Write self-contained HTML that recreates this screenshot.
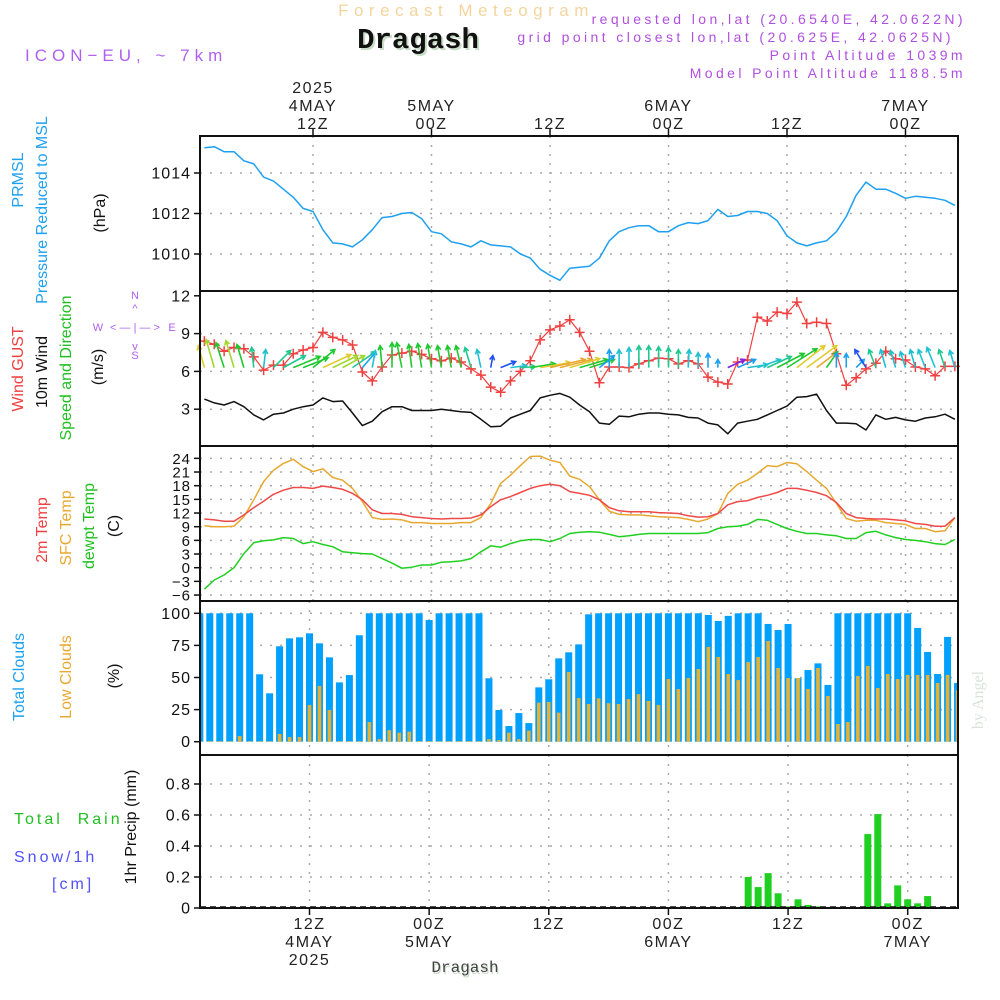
<!DOCTYPE html>
<html><head><meta charset="utf-8"><title>Forecast Meteogram Dragash</title>
<style>
html,body{margin:0;padding:0;background:#fff;}
svg{display:block;font-family:"Liberation Sans",sans-serif;}
</style></head>
<body>
<svg id="chart" width="1000" height="1000" viewBox="0 0 1000 1000" xmlns="http://www.w3.org/2000/svg">
<rect width="1000" height="1000" fill="#fff"/>
<!-- Header -->
<text x="466" y="16" text-anchor="middle" font-size="17" fill="#f4d49c" letter-spacing="5.5">Forecast Meteogram</text>
<text x="420" y="50" text-anchor="middle" font-family="Liberation Mono, monospace" font-weight="bold" font-size="29" fill="#c8dcc8">Dragash</text>
<text x="418" y="48" text-anchor="middle" font-family="Liberation Mono, monospace" font-weight="bold" font-size="29" fill="#111">Dragash</text>
<text x="25" y="61" font-size="17" fill="#b060f0" letter-spacing="5">ICON−EU, ~ 7km</text>
<g font-size="14" fill="#b050e0" text-anchor="end" letter-spacing="3.4">
<text x="966" y="24">requested lon,lat (20.6540E, 42.0622N)</text>
<text x="954" y="42">grid point closest lon,lat (20.625E, 42.0625N)</text>
<text x="966" y="60">Point Altitude 1039m</text>
<text x="966" y="78">Model Point Altitude 1188.5m</text>
</g>
<!-- Left axis titles -->
<g font-size="16">
<text transform="translate(23,180) rotate(-90)" text-anchor="middle" fill="#1ea0f0">PRMSL</text>
<text transform="translate(47,210) rotate(-90)" text-anchor="middle" fill="#1ea0f0">Pressure Reduced to MSL</text>
<text transform="translate(105,213) rotate(-90)" text-anchor="middle" fill="#111">(hPa)</text>
</g>
<g font-size="16">
<text transform="translate(23,369) rotate(-90)" text-anchor="middle" fill="#f04040">Wind GUST</text>
<text transform="translate(47,372) rotate(-90)" text-anchor="middle" fill="#111">10m Wind</text>
<text transform="translate(71,368) rotate(-90)" text-anchor="middle" fill="#20c020">Speed and Direction</text>
<text transform="translate(103,367) rotate(-90)" text-anchor="middle" fill="#111">(m/s)</text>
</g>
<g font-size="11" fill="#b060f0" text-anchor="middle">
<text x="135" y="299">N</text><text x="98" y="331">W</text><text x="172" y="331">E</text><text x="135" y="359">S</text>
<text x="135" y="331">&lt; — | — &gt;</text>
<text x="135" y="312">^</text><text x="135" y="350">v</text>
</g>
<g font-size="16">
<text transform="translate(47,530) rotate(-90)" text-anchor="middle" fill="#f04040">2m Temp</text>
<text transform="translate(71,528) rotate(-90)" text-anchor="middle" fill="#e8a830">SFC Temp</text>
<text transform="translate(94,526) rotate(-90)" text-anchor="middle" fill="#20c020">dewpt Temp</text>
<text transform="translate(119,526) rotate(-90)" text-anchor="middle" fill="#111">(C)</text>
</g>
<g font-size="16">
<text transform="translate(24,677) rotate(-90)" text-anchor="middle" fill="#1ea0f0">Total Clouds</text>
<text transform="translate(71,677) rotate(-90)" text-anchor="middle" fill="#e8a830">Low Clouds</text>
<text transform="translate(119,676) rotate(-90)" text-anchor="middle" fill="#111">(%)</text>
</g>
<g font-size="16" letter-spacing="3">
<text x="14" y="824" fill="#20c020" xml:space="preserve">Total  Rain</text>
<text x="14" y="862" fill="#5050ff">Snow/1h</text>
<text x="52" y="889" fill="#5050ff">[cm]</text>
<text transform="translate(136,827) rotate(-90)" text-anchor="middle" fill="#111" letter-spacing="0">1hr Precip (mm)</text>
</g>
<text transform="translate(983,700) rotate(-90)" text-anchor="middle" font-family="Liberation Serif, serif" font-size="16" fill="#d8e4d8">by Angel</text>
<text x="466" y="974" text-anchor="middle" font-family="Liberation Mono, monospace" font-size="16" fill="#c8dcc8">Dragash</text>
<text x="465" y="972" text-anchor="middle" font-family="Liberation Mono, monospace" font-size="16" fill="#444">Dragash</text>
<g id="grid"></g>
<g id="marks"></g>
<g id="frames"></g>
<g id="axes"></g>
</svg>
<script>
// ---- Data (hours 1..77 after 00Z 4 MAY 2025) ----
const pressure = [1015.25,1015.3,1015.05,1015.05,1014.6,1014.45,1013.8,1013.6,1013.2,1012.8,1012.25,1012.1,1011.2,1010.55,1010.5,1010.35,1010.7,1011.2,1011.8,1011.85,1012.0,1012.05,1011.75,1011.1,1011.0,1010.6,1010.5,1010.35,1010.65,1010.45,1010.4,1010.35,1010.0,1009.8,1009.25,1008.95,1008.7,1009.3,1009.35,1009.4,1009.8,1010.65,1011.1,1011.3,1011.4,1011.4,1011.1,1011.1,1011.4,1011.55,1011.5,1011.65,1012.2,1011.85,1011.9,1012.1,1012.1,1012.0,1011.65,1010.9,1010.55,1010.4,1010.55,1010.65,1011.1,1011.85,1012.9,1013.55,1013.2,1013.2,1013.0,1012.75,1012.85,1012.8,1012.75,1012.65,1012.4];
const windSpeed = [3.8,3.5,3.33,3.6,3.2,2.55,2.15,2.6,2.7,3.0,3.2,3.33,3.9,3.6,3.65,2.7,1.7,2.05,2.8,3.2,3.2,2.9,2.9,2.9,3.0,2.9,2.8,2.75,2.2,1.6,1.65,2.3,2.6,2.9,3.9,4.1,4.25,3.95,3.33,2.8,1.9,1.8,2.45,2.4,2.6,2.7,2.7,2.6,2.55,2.35,2.3,1.9,1.75,1.05,1.9,2.05,2.2,2.55,2.9,3.25,3.95,4.0,4.2,2.9,1.9,1.9,1.85,1.35,2.55,2.2,2.35,2.15,2.05,2.3,2.4,2.6,2.2];
const windGust = [8.4,8.15,7.6,7.9,7.8,7.15,6.1,6.5,6.5,7.4,7.7,7.9,9.1,8.7,8.5,8.1,5.95,5.25,6.35,7.3,7.45,7.6,7.35,7.0,6.85,7.05,6.75,6.2,5.7,4.75,4.35,5.25,6.0,6.85,8.5,9.3,9.6,10.1,9.1,7.6,5.1,6.35,6.35,6.3,6.6,6.85,7.05,7.0,6.6,6.85,6.6,5.55,5.15,5.0,6.75,6.9,10.3,10.0,10.7,10.6,11.5,9.8,9.9,9.8,7.4,4.9,5.5,6.2,6.65,7.6,7.0,6.9,6.35,6.2,5.65,6.4,6.4];
const windU = [-2,-2.7,-2.7,-2.7,-2.3,-0.7,0.7,5.7,7.3,9,8.3,7.3,9.3,8.3,7.3,7.7,4.3,1,-0.7,0,-1.7,-1,-1.3,-1.3,-1.3,-1.3,-1.7,-2,-1.3,0.7,5,5.3,5,8.3,10,11.7,10.7,10,9.3,8.3,5,0,0,0,0,0,0,0,0,0.3,0,0,0,5.7,6,6.7,7.7,8,9,10,9.3,10,7,3.7,0,0,2.7,-3.7,-2.3,-1.7,-1.7,-1.7,-1.7,-2.3,-2.7,-2,-1.7];
const windV = [7.3,9.3,8.3,9,7.7,6.7,6,5.7,4,3.7,3.3,6,4.3,4,4,5.3,5,5.7,7.3,8.3,8.3,7.7,8,7.7,7.3,7.3,7.3,6.7,6,4,2,0.7,0.3,1.3,1.7,2.7,2.7,3,2.7,2.7,4,6,6,6.7,7.3,7.3,7,6.7,6,6,5,4.7,2.7,2.7,2.7,1,2.7,3.7,4.7,6.3,7.3,7.3,5.3,5.3,5,4.7,2.7,6,6,6,5.7,5.3,6,6,6.7,6,5.7];
const temp2m = [10.7,10.5,10.2,10.2,11.6,13.2,14.6,16.1,17.0,17.6,17.6,17.4,17.9,17.6,17.2,16.3,14.9,12.7,11.9,11.9,11.7,11.2,11.0,10.8,10.7,10.8,10.8,10.9,11.6,13.4,14.9,15.6,16.5,17.4,18.0,18.3,18.0,16.7,16.3,15.9,14.9,13.2,12.5,12.3,12.3,12.3,12.1,12.0,11.9,11.4,11.1,11.2,11.9,13.8,14.5,14.7,15.4,15.9,16.5,17.4,17.4,17.0,16.5,15.8,14.3,11.9,11.0,10.8,10.7,10.7,10.5,10.3,9.7,9.5,9.1,9.1,11.0];
const tempSfc = [9.2,9.0,9.0,9.1,11.2,14.9,18.9,21.4,22.9,23.8,22.2,21.1,21.7,19.8,19.2,17.4,14.5,11.0,10.6,10.7,10.5,9.9,9.9,9.7,9.7,9.7,9.9,9.9,11.0,14.1,18.5,20.3,22.4,24.4,24.5,23.6,23.1,20.1,19.4,17.8,14.9,12.4,11.7,11.6,11.6,11.4,11.2,11.1,11.0,10.6,10.1,10.7,11.9,16.3,18.3,19.2,20.7,22.4,22.2,23.1,22.8,21.1,19.2,17.4,14.1,10.8,10.2,10.4,10.4,9.9,9.7,9.5,8.6,8.6,7.9,8.1,11.0];
const dewpoint = [-4.7,-2.7,-1.6,0,3.1,5.5,5.9,6.1,6.6,6.4,5.3,5.7,5.1,4.6,3.5,3.3,3.1,3.0,2.0,1.0,-0.1,0.1,0.6,0.6,1.2,1.3,1.5,2.0,3.5,4.8,4.5,5.3,5.9,6.2,6.2,5.7,6.4,7.5,7.8,7.9,7.8,7.3,6.8,7.0,7.3,7.5,7.5,7.5,7.5,7.5,7.5,7.7,8.6,9.0,9.1,9.5,10.6,10.4,9.5,8.6,8.0,7.5,7.5,7.2,7.0,6.4,6.4,7.7,8.0,7.2,6.6,6.2,6.0,5.7,5.3,5.1,6.2];
const totalClouds = [100,100,100,100,100,100,52.5,37.7,74.3,80.5,81.3,84.4,76.6,65.7,46.2,51.9,82.9,100,100,100,100,100,100,94.8,100,100,100,100,100,49.4,24.7,12.2,22.3,14.5,42.3,48.6,64.9,69.6,75.8,99.2,100,100,100,100,100,100,100,100,100,100,100,98.7,94,98,100,100,100,91.7,87,91.7,49.4,55.8,61,44.2,100,100,100,100,100,100,100,100,88.6,69.9,52.7,81.6,45.7];
const lowClouds = [0.5,0.5,0.5,0.5,4.4,0.5,0.5,0.5,6,3.6,3.6,28.6,43.4,24.7,0.5,0.5,0.5,15.3,2,9,7,7.8,0.5,0.5,0.5,0.5,0.5,0.5,0.5,2,1.3,7,2,8.6,30.4,30.9,22.6,54.3,34,29.4,33.8,30,29.4,33.2,37,31.7,28.6,48.8,41,49.6,56.6,73.8,66,52.7,48,62,66,78.4,57.4,49.6,49.6,41,57.4,35.6,13.8,15.3,51.2,59,41.8,52.7,48.8,52,52,52,45.7,52,40.3];
const precip = [0,0,0,0,0,0,0,0,0,0,0,0.005,0,0,0,0,0,0,0,0,0,0,0,0,0,0,0,0,0,0,0,0,0,0,0,0,0,0,0,0,0,0,0,0,0,0,0,0,0,0,0.005,0,0,0,0,0.2,0.135,0.225,0.095,0.01,0.056,0.02,0.01,0,0,0,0,0.477,0.606,0.03,0.146,0.056,0.03,0.077,0,0,0];
const pressureTicks = [1010,1012,1014];
const windTicks = [3,6,9,12];
const tempTicks = [-6,-3,0,3,6,9,12,15,18,21,24];
const cloudTicks = [0,25,50,75,100];
const precipTicks = [0,0.2,0.4,0.6,0.8];
const timeTickHours = [12,24,36,48,60,72];
const topTimeLabels = [["2025","4MAY","12Z"],["","5MAY","00Z"],["","","12Z"],["","6MAY","00Z"],["","","12Z"],["","7MAY","00Z"]];
const bottomTimeLabels = [["12Z","4MAY","2025"],["00Z","5MAY",""],["12Z","",""],["00Z","6MAY",""],["12Z","",""],["00Z","7MAY",""]];

// ---- Scales ----
const X0=200, X1=958;
const P = {p:[136,291], w:[291,446], t:[446,601], c:[601,755], r:[755,908]};
const xTop = h => 313 + (h-12)*9.875;
const xBot = h => 309.5 + (h-12)*9.97;
const yP = v => 254 - (v-1010)*20.25;
const yW = v => 447 - v*12.6;
const yT = v => 567.7 - v*4.556;
const yC = v => 741.7 - v*1.284;
const yR = v => 908 - v*155;

const NS="http://www.w3.org/2000/svg";
function mk(tag, attrs, parent){const e=document.createElementNS(NS,tag);for(const k in attrs)e.setAttribute(k,attrs[k]);parent.appendChild(e);return e;}
const grid=document.getElementById('grid'), marks=document.getElementById('marks'), frames=document.getElementById('frames'), axes=document.getElementById('axes');

function hgrid(vals, yf, name){vals.forEach(v=>{const y=yf(v);const l=mk('line',{x1:X0,x2:X1,y1:y,y2:y,stroke:'#aaa','stroke-width':1.5,'stroke-dasharray':'2 8'},grid);

});}
hgrid(pressureTicks,yP,'pressure');hgrid(windTicks.filter(v=>v<12),yW,'wind');hgrid(tempTicks,yT,'temp');hgrid(cloudTicks.filter(v=>v>0),yC,'cloud');hgrid([0.2,0.4,0.6,0.8],yR,'precip');
timeTickHours.forEach(h=>{
 [[P.p,xTop],[P.w,xTop],[P.t,xTop],[P.c,xBot],[P.r,xBot]].forEach(([r,f])=>{const x=f(h);
 const l=mk('line',{x1:x,x2:x,y1:r[0],y2:r[1],stroke:'#aaa','stroke-width':1.5,'stroke-dasharray':'2 7'},grid);
 
 });
});

function polyline(vals, xf, yf, color, name, w){
 const pts=vals.map((v,i)=>xf(i+1).toFixed(1)+','+yf(v).toFixed(1)).join(' ');
 const pl=mk('polyline',{points:pts,fill:'none',stroke:color,'stroke-width':w||1.5,'stroke-linejoin':'round'},marks);
 
 
 return pl;
}
polyline(pressure,xTop,yP,'#1ea0f0','pressure-line');
polyline(windSpeed,xTop,yW,'#111','wind-speed-line');
polyline(windGust,xTop,yW,'#f04040','wind-gust-line',1.2);
windGust.forEach((v,i)=>{const x=xTop(i+1),y=yW(v);
 const g=mk('path',{d:`M${x-5},${y}H${x+5}M${x},${y-5}V${y+5}`,stroke:'#f04040','stroke-width':1.5},marks);
 
 });
function arrowColor(s){if(s<1.3)return '#8020e0';if(s<1.7)return '#2050f0';if(s<2.0)return '#1ea0f0';if(s<2.5)return '#20c0d0';if(s<2.8)return '#20c890';if(s<3.4)return '#20c830';if(s<3.7)return '#a0d830';if(s<4.05)return '#e0cc30';return '#e8a830';}
const arrowBase = 6.3, arrowScale = 3;
windU.forEach((u,i)=>{const v=windV[i];const x=xTop(i+1),y=yW(arrowBase);
 const dx=u*arrowScale, dy=-v*arrowScale; const len=Math.hypot(dx,dy); if(len<0.5)return;
 const ex=x+dx, ey=y+dy, ux=dx/len, uy=dy/len, hl=5;
 const a1x=ex-hl*(ux*0.87-uy*0.5), a1y=ey-hl*(uy*0.87+ux*0.5);
 const a2x=ex-hl*(ux*0.87+uy*0.5), a2y=ey-hl*(uy*0.87-ux*0.5);
 const c=arrowColor(windSpeed[i]);
 const a=mk('path',{d:`M${x},${y}L${ex},${ey}M${a1x},${a1y}L${ex},${ey}L${a2x},${a2y}`,stroke:c,'stroke-width':1.6,fill:'none'},marks);
 
 
});
polyline(tempSfc,xTop,yT,'#e8a830','sfc-temp-line');
polyline(temp2m,xTop,yT,'#f04848','temp-2m-line');
polyline(dewpoint,xTop,yT,'#20d020','dewpoint-line');
const cg=mk('g',{'clip-path':'url(#clipC)'},marks);
const defs=mk('defs',{},document.getElementById('chart'));
const cp=mk('clipPath',{id:'clipC'},defs);mk('rect',{x:X0,y:P.c[0],width:X1-X0,height:P.c[1]-P.c[0]},cp);
totalClouds.forEach((v,i)=>{const x=xBot(i+1);
 const b=mk('rect',{x:x-3.5,y:yC(v),width:7,height:yC(0)-yC(v),fill:'#00a0ff'},cg);
 
 });
lowClouds.forEach((v,i)=>{const x=xBot(i+1);
 const b=mk('rect',{x:x-1.8,y:yC(v),width:3.6,height:yC(0)-yC(v),fill:'#e8b030'},cg);
 
 });
precip.forEach((v,i)=>{if(v<=0)return;const x=xBot(i+1);
 const b=mk('rect',{x:x-3.5,y:yR(v),width:7,height:Math.max(1,yR(0)-yR(v)),fill:'#20d020'},marks);
 
 });
const bl=mk('line',{x1:X0,x2:X1,y1:907,y2:907,stroke:'#111','stroke-width':1.5,'stroke-dasharray':'6 4'},marks);



Object.keys(P).forEach(k=>{const r=P[k];
 const f=mk('rect',{x:X0,y:r[0],width:X1-X0,height:r[1]-r[0],fill:'none',stroke:'#111','stroke-width':2},frames);
 
 });

function yaxis(vals, yf, fmt, name, fs){vals.forEach(v=>{const y=yf(v);
 mk('line',{x1:194,x2:200,y1:y,y2:y,stroke:'#111','stroke-width':1.5},axes);
 const t=mk('text',{x:191,y:y+5.5,'text-anchor':'end','font-size':fs||16,fill:'#111','letter-spacing':'1'},axes);
 t.textContent=fmt(v);
 
 });}
yaxis(pressureTicks,yP,v=>String(v),'pressure');
yaxis(windTicks,yW,v=>String(v),'wind');
yaxis(tempTicks,yT,v=>v<0?'−'+Math.abs(v):String(v),'temp',15);
yaxis(cloudTicks,yC,v=>String(v),'cloud');
yaxis(precipTicks,yR,v=>v===0?'0':v.toFixed(1),'precip');

timeTickHours.forEach((h,i)=>{const x=xTop(h);
 mk('line',{x1:x,x2:x,y1:129,y2:136,stroke:'#111','stroke-width':1.5},axes);
 topTimeLabels[i].forEach((s,j)=>{if(!s)return;const t=mk('text',{x:x,y:93+j*18,'text-anchor':'middle','font-size':16,fill:'#222','letter-spacing':'1.5'},axes);t.textContent=s;
 
 });
 const xb=xBot(h);
 mk('line',{x1:xb,x2:xb,y1:908,y2:915,stroke:'#111','stroke-width':1.5},axes);
 bottomTimeLabels[i].forEach((s,j)=>{if(!s)return;const t=mk('text',{x:xb,y:929+j*18,'text-anchor':'middle','font-size':16,fill:'#222','letter-spacing':'1.5'},axes);t.textContent=s;
 
 });
});
</script>
</body></html>
